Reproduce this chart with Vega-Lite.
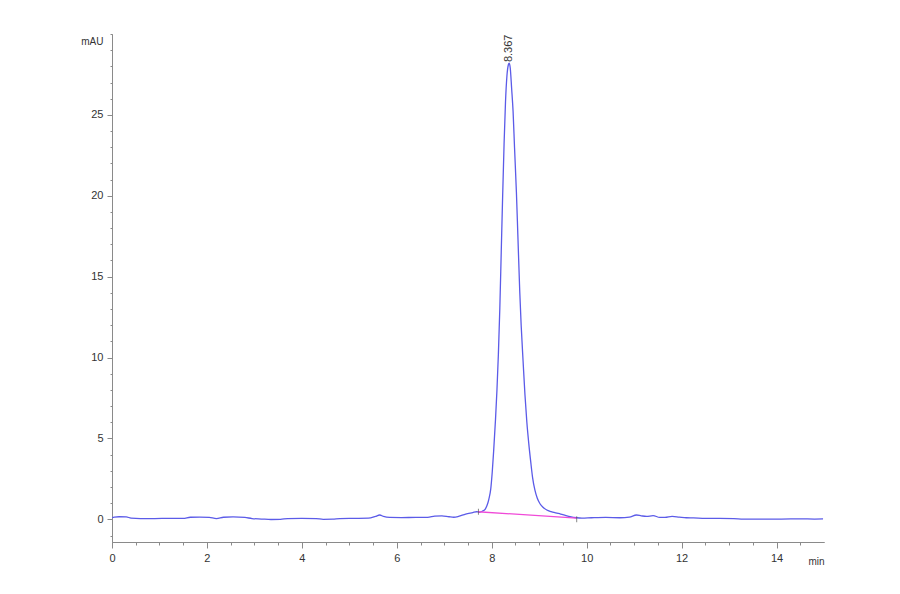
{
  "$schema": "https://vega.github.io/schema/vega-lite/v6.json",
  "width": 712,
  "height": 508,
  "autosize": "none",
  "padding": {"left": 112, "top": 34, "right": 76, "bottom": 52},
  "background": "white",
  "config": {
    "view": {"stroke": null},
    "axis": {
      "domainColor": "#8a8a8a",
      "tickColor": "#8a8a8a",
      "labelColor": "#333333",
      "titleColor": "#333333",
      "labelFont": "Liberation Sans",
      "titleFont": "Liberation Sans",
      "labelFontSize": 11,
      "titleFontSize": 10,
      "titleFontWeight": "normal",
      "grid": false
    }
  },
  "datasets": {
    "trace": [
      {"t": 0.00, "v": 0.10}, {"t": 0.05, "v": 0.14}, {"t": 0.15, "v": 0.16}, {"t": 0.30, "v": 0.15},
      {"t": 0.40, "v": 0.08}, {"t": 0.60, "v": 0.05}, {"t": 0.90, "v": 0.05}, {"t": 1.20, "v": 0.06},
      {"t": 1.50, "v": 0.06}, {"t": 1.65, "v": 0.13}, {"t": 1.85, "v": 0.14}, {"t": 2.05, "v": 0.12},
      {"t": 2.20, "v": 0.05}, {"t": 2.35, "v": 0.13}, {"t": 2.55, "v": 0.15}, {"t": 2.80, "v": 0.12},
      {"t": 2.95, "v": 0.05}, {"t": 3.15, "v": 0.02}, {"t": 3.35, "v": -0.01}, {"t": 3.55, "v": 0.0},
      {"t": 3.70, "v": 0.05}, {"t": 4.00, "v": 0.06}, {"t": 4.30, "v": 0.05}, {"t": 4.45, "v": 0.0},
      {"t": 4.65, "v": 0.01}, {"t": 4.80, "v": 0.05}, {"t": 5.10, "v": 0.06}, {"t": 5.40, "v": 0.07},
      {"t": 5.55, "v": 0.18}, {"t": 5.64, "v": 0.27}, {"t": 5.72, "v": 0.18}, {"t": 5.85, "v": 0.12},
      {"t": 6.10, "v": 0.11}, {"t": 6.40, "v": 0.12}, {"t": 6.65, "v": 0.12}, {"t": 6.80, "v": 0.20},
      {"t": 6.95, "v": 0.22}, {"t": 7.10, "v": 0.16}, {"t": 7.20, "v": 0.13}, {"t": 7.30, "v": 0.18},
      {"t": 7.45, "v": 0.33}, {"t": 7.60, "v": 0.42}, {"t": 7.68, "v": 0.47}, {"t": 7.74, "v": 0.44},
      {"t": 7.80, "v": 0.50}, {"t": 7.86, "v": 0.62}, {"t": 7.90, "v": 0.85}, {"t": 7.94, "v": 1.25},
      {"t": 7.98, "v": 1.9}, {"t": 8.01, "v": 2.9}, {"t": 8.04, "v": 4.2}, {"t": 8.08, "v": 6.2},
      {"t": 8.11, "v": 8.0}, {"t": 8.14, "v": 10.2}, {"t": 8.17, "v": 13.0}, {"t": 8.20, "v": 16.5},
      {"t": 8.23, "v": 20.0}, {"t": 8.26, "v": 23.2}, {"t": 8.29, "v": 25.8}, {"t": 8.32, "v": 27.4},
      {"t": 8.35, "v": 28.1}, {"t": 8.367, "v": 28.2}, {"t": 8.39, "v": 27.9}, {"t": 8.42, "v": 26.6},
      {"t": 8.45, "v": 25.2}, {"t": 8.48, "v": 23.0}, {"t": 8.52, "v": 20.2}, {"t": 8.55, "v": 17.6},
      {"t": 8.59, "v": 14.1}, {"t": 8.62, "v": 12.0}, {"t": 8.66, "v": 9.8}, {"t": 8.70, "v": 7.7},
      {"t": 8.74, "v": 6.0}, {"t": 8.78, "v": 4.7}, {"t": 8.82, "v": 3.6}, {"t": 8.86, "v": 2.6},
      {"t": 8.91, "v": 1.8}, {"t": 8.96, "v": 1.3}, {"t": 9.02, "v": 0.95}, {"t": 9.08, "v": 0.75},
      {"t": 9.16, "v": 0.58}, {"t": 9.25, "v": 0.48}, {"t": 9.35, "v": 0.40}, {"t": 9.45, "v": 0.33},
      {"t": 9.55, "v": 0.25}, {"t": 9.65, "v": 0.17}, {"t": 9.79, "v": 0.10}, {"t": 9.90, "v": 0.08},
      {"t": 10.10, "v": 0.10}, {"t": 10.40, "v": 0.12}, {"t": 10.70, "v": 0.10}, {"t": 10.90, "v": 0.14},
      {"t": 11.05, "v": 0.27}, {"t": 11.15, "v": 0.22}, {"t": 11.26, "v": 0.18}, {"t": 11.40, "v": 0.23},
      {"t": 11.54, "v": 0.12}, {"t": 11.65, "v": 0.12}, {"t": 11.80, "v": 0.18}, {"t": 11.95, "v": 0.14},
      {"t": 12.10, "v": 0.10}, {"t": 12.25, "v": 0.09}, {"t": 12.50, "v": 0.06}, {"t": 12.80, "v": 0.06},
      {"t": 13.10, "v": 0.05}, {"t": 13.30, "v": 0.02}, {"t": 13.70, "v": 0.02}, {"t": 14.10, "v": 0.02},
      {"t": 14.50, "v": 0.03}, {"t": 14.80, "v": 0.02}, {"t": 14.98, "v": 0.03}
    ],
    "baseline": [
      {"t": 7.71, "v": 0.47}, {"t": 9.79, "v": 0.07}
    ],
    "marks": [
      {"t": 7.72, "v": 0.47}, {"t": 9.79, "v": 0.0}
    ],
    "peak": [
      {"t": 8.367, "v": 28.2, "label": "8.367"}
    ]
  },
  "resolve": {"axis": {"x": "independent", "y": "independent"}},
  "layer": [
    {
      "data": {"name": "trace"},
      "mark": {"type": "line", "color": "#5b5be8", "strokeWidth": 1.3, "interpolate": "monotone", "clip": true},
      "encoding": {
        "x": {
          "field": "t", "type": "quantitative",
          "scale": {"domain": [0, 15], "nice": false, "zero": false},
          "axis": {
            "orient": "bottom",
            "values": [0, 2, 4, 6, 8, 10, 12, 14],
            "tickSize": 6,
            "labelPadding": 4,
            "labelFlush": false,
            "labelOverlap": false,
            "title": "min",
            "titleAngle": 0,
            "titleX": 704,
            "titleY": 19,
            "titleAlign": "center",
            "titleBaseline": "middle"
          }
        },
        "y": {
          "field": "v", "type": "quantitative",
          "scale": {"domain": [-1.4, 30], "nice": false, "zero": false},
          "axis": {
            "orient": "left",
            "values": [0, 5, 10, 15, 20, 25],
            "tickSize": 5,
            "labelPadding": 4,
            "labelFlush": false,
            "labelOverlap": false,
            "title": "mAU",
            "titleAngle": 0,
            "titleX": -9,
            "titleY": 7,
            "titleAlign": "right",
            "titleBaseline": "middle"
          }
        }
      }
    },
    {
      "data": {"name": "baseline"},
      "mark": {"type": "line", "color": "#f04ad8", "strokeWidth": 1.3},
      "encoding": {
        "x": {
          "field": "t", "type": "quantitative",
          "axis": {
            "orient": "bottom",
            "values": [0.5, 1, 1.5, 2.5, 3, 3.5, 4.5, 5, 5.5, 6.5, 7, 7.5, 8.5, 9, 9.5, 10.5, 11, 11.5, 12.5, 13, 13.5, 14.5],
            "tickSize": 3,
            "labels": false,
            "title": null
          }
        },
        "y": {
          "field": "v", "type": "quantitative",
          "axis": {
            "orient": "left",
            "values": [-1, 1, 2, 3, 4, 6, 7, 8, 9, 11, 12, 13, 14, 16, 17, 18, 19, 21, 22, 23, 24, 26, 27, 28, 29, 30],
            "tickSize": 2,
            "labels": false,
            "title": null
          }
        }
      }
    },
    {
      "data": {"name": "marks"},
      "mark": {"type": "tick", "orient": "vertical", "color": "#555555", "size": 6, "thickness": 1},
      "encoding": {
        "x": {"field": "t", "type": "quantitative", "axis": null},
        "y": {"field": "v", "type": "quantitative", "axis": null}
      }
    },
    {
      "data": {"name": "peak"},
      "mark": {"type": "text", "angle": 270, "align": "left", "baseline": "middle", "font": "Liberation Sans", "fontSize": 11, "color": "#333333", "dx": 1},
      "encoding": {
        "x": {"field": "t", "type": "quantitative", "axis": null},
        "y": {"field": "v", "type": "quantitative", "axis": null},
        "text": {"field": "label"}
      }
    }
  ]
}
